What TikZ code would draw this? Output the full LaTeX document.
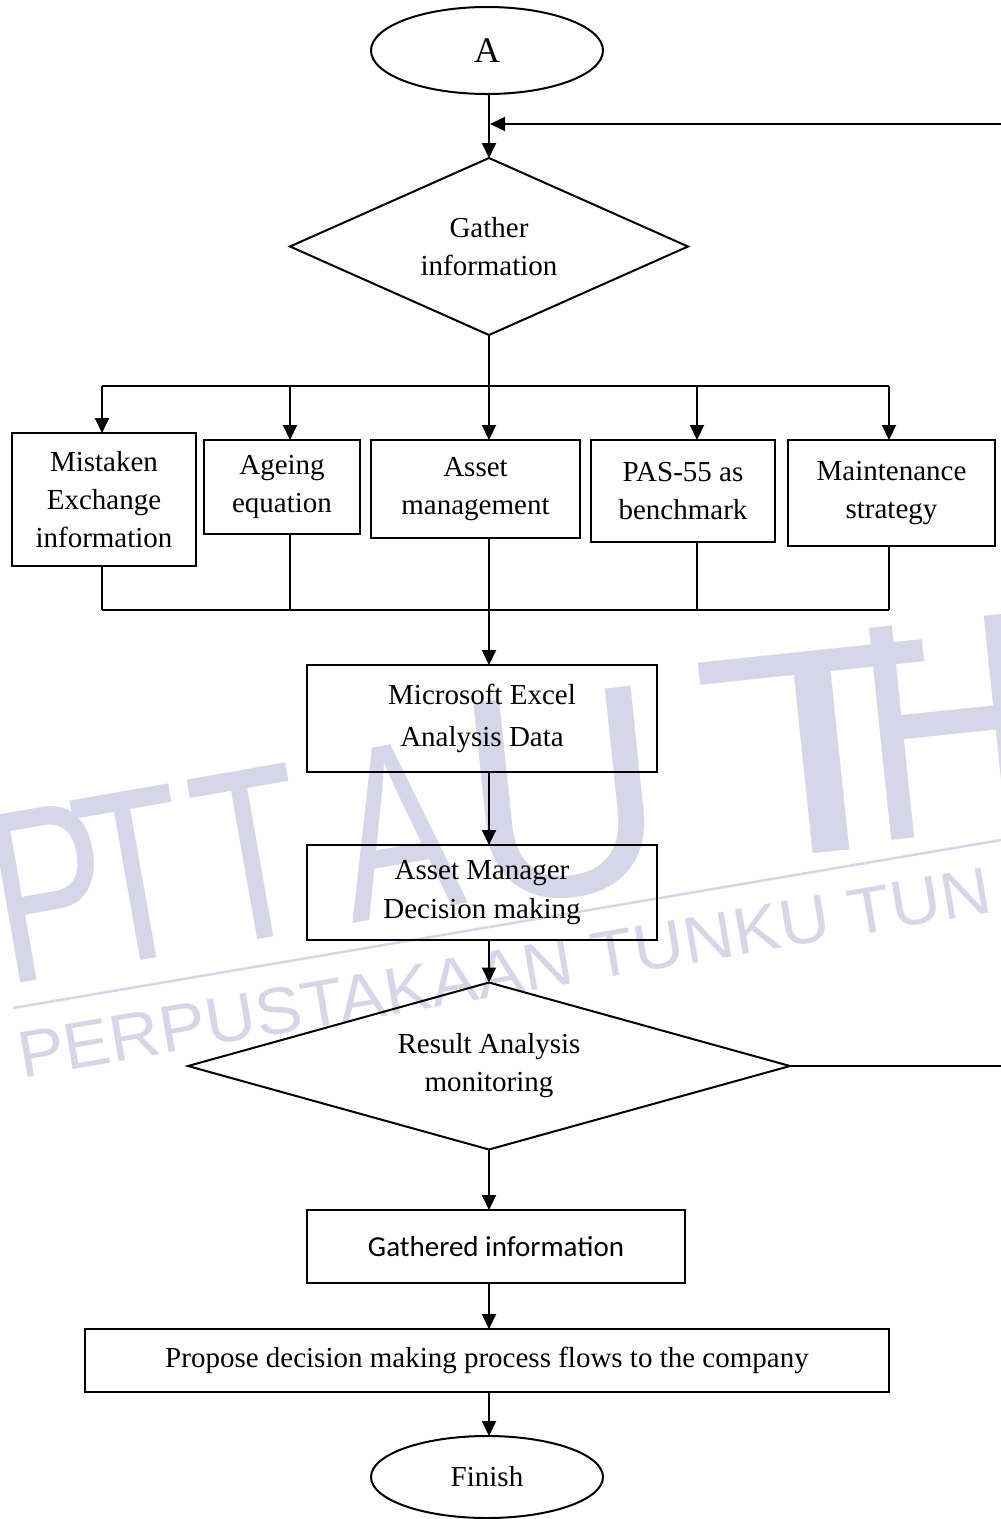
\documentclass[tikz,border=0pt]{standalone}
\usepackage{graphicx}
\usepackage{fontspec}
\setmainfont{Liberation Serif}
\newfontfamily\calibfont{Carlito}
\newfontfamily\wmfont{Liberation Sans}
\usetikzlibrary{shapes.geometric,arrows.meta}
\definecolor{wm}{RGB}{214,214,232}
\begin{document}
\begin{tikzpicture}[x=1pt,y=-1pt,
  every node/.style={inner sep=0pt, outer sep=0pt},
  lbl/.style={font=\fontsize{29}{38}\selectfont, align=center},
  boxnode/.style={draw, line width=2pt, rectangle, lbl},
  decnode/.style={draw, line width=2pt, diamond, lbl},
  termnode/.style={draw, line width=2pt, ellipse, lbl},
  conn/.style={line width=2pt},
  arr/.style={conn, -{Triangle[length=15pt,width=14pt]}},
  wmtext/.style={text=wm, anchor=base west, rotate=10},
  wmbig/.style={wmtext, font=\wmfont\fontsize{246}{246}\selectfont},
  wmhuge/.style={wmtext, rotate=-4, font=\wmfont\fontsize{293}{293}\selectfont},
]
\useasboundingbox (0,0) rectangle (1001,1519);

% watermark
\begin{scope}
\clip (0,0) rectangle (1001,1519);
\node[wmbig] (wmP) at (6,985) {\scalebox{0.72}[1]{P}};
\node[wmbig] (wmT1) at (95,968) {\scalebox{0.72}[1]{T}};
\node[wmbig] (wmT2) at (212,947) {\scalebox{0.72}[1]{T}};
\node[wmbig] (wmA) at (352,923) {\scalebox{0.72}[1]{A}};
\node[wmhuge] (wmU) at (473,905) {\scalebox{0.95}[1]{U}};
\node[wmhuge] (wmT) at (710,864) {\scalebox{1.36}[1]{T}};
\node[wmhuge, font=\wmfont\fontsize{310}{310}\selectfont] (wmH) at (871,842) {\scalebox{0.8}[1]{H}};
\node[wmtext, rotate=-0.3, font=\wmfont\fontsize{66}{66}\selectfont] (wmL) at (22,1078) {\scalebox{1.06}[1]{PERPUSTAKAAN TUNKU TUN}};
\coordinate (wl1) at (13,1008);
\coordinate (wl2) at (1001,840);
\draw[wm, line width=2.5pt] (wl1) -- (wl2);
\end{scope}

% nodes
\node[termnode, minimum width=232, minimum height=87, font=\fontsize{36}{40}\selectfont] (A) at (487,50.5) {A};
\node[decnode, shape aspect=2.25, minimum width=398, minimum height=177] (g1) at (489,246.5) {Gather\\information};
\node[boxnode, minimum width=184, minimum height=133] (b1) at (104,499.5) {Mistaken\\Exchange\\information};
\node[boxnode, minimum width=156, minimum height=94] (b2) at (282,487) {Ageing\\equation};
\node[boxnode, minimum width=209, minimum height=98] (b3) at (475.5,489) {Asset\\management};
\node[boxnode, minimum width=184, minimum height=102] (b4) at (683,491) {PAS-55 as\\benchmark};
\node[boxnode, minimum width=207, minimum height=106] (b5) at (891.5,493) {Maintenance\\strategy};
\node[boxnode, minimum width=350, minimum height=107, font=\fontsize{29}{42}\selectfont] (ex) at (482,718.5) {Microsoft Excel\\Analysis Data};
\node[boxnode, minimum width=350, minimum height=95, font=\fontsize{29}{39}\selectfont] (am) at (482,892.5) {Asset Manager\\Decision making};
\node[decnode, shape aspect=3.6, minimum width=602, minimum height=167] (g2) at (489,1066) {Result Analysis\\monitoring};
\node[boxnode, minimum width=378, minimum height=73, font=\calibfont\fontsize{29}{36}\selectfont] (ga) at (496,1246.5) {Gathered information};
\node[boxnode, minimum width=804, minimum height=63] (pr) at (487,1360.5) {Propose decision making process flows to the company};
\node[termnode, minimum width=232, minimum height=82] (fin) at (487,1477) {Finish};

% coordinates
\coordinate (t1) at (102,386);
\coordinate (t2) at (290,386);
\coordinate (t3) at (489,386);
\coordinate (t4) at (697,386);
\coordinate (t5) at (889,386);
\coordinate (u1) at (102,610);
\coordinate (u2) at (290,610);
\coordinate (u3) at (489,610);
\coordinate (u4) at (697,610);
\coordinate (u5) at (889,610);
\coordinate (rtop) at (1001,124);
\coordinate (rbot) at (1001,1066);

% connectors
\draw[arr] (A.south -| g1.north) -- (g1.north);
\draw[arr, shorten >=1pt] (rtop) -- (rtop -| g1.north);
\draw[conn] (g1.south) -- (t3);
\draw[conn] (t1) -- (t5);
\draw[arr] (t1) -- (t1 |- b1.north);
\draw[arr] (t2) -- (t2 |- b2.north);
\draw[arr] (t3) -- (t3 |- b3.north);
\draw[arr] (t4) -- (t4 |- b4.north);
\draw[arr] (t5) -- (t5 |- b5.north);
\draw[conn] (u1 |- b1.south) -- (u1);
\draw[conn] (u2 |- b2.south) -- (u2);
\draw[conn] (u3 |- b3.south) -- (u3);
\draw[conn] (u4 |- b4.south) -- (u4);
\draw[conn] (u5 |- b5.south) -- (u5);
\draw[conn] (u1) -- (u5);
\draw[arr] (u3) -- (u3 |- ex.north);
\draw[arr] (u3 |- ex.south) -- (u3 |- am.north);
\draw[arr] (u3 |- am.south) -- (g2.north);
\draw[conn] (g2.east) -- (rbot);
\draw[arr] (g2.south) -- (g2.south |- ga.north);
\draw[arr] (g2.south |- ga.south) -- (g2.south |- pr.north);
\draw[arr] (g2.south |- pr.south) -- (g2.south |- fin.north);
\end{tikzpicture}
\end{document}
